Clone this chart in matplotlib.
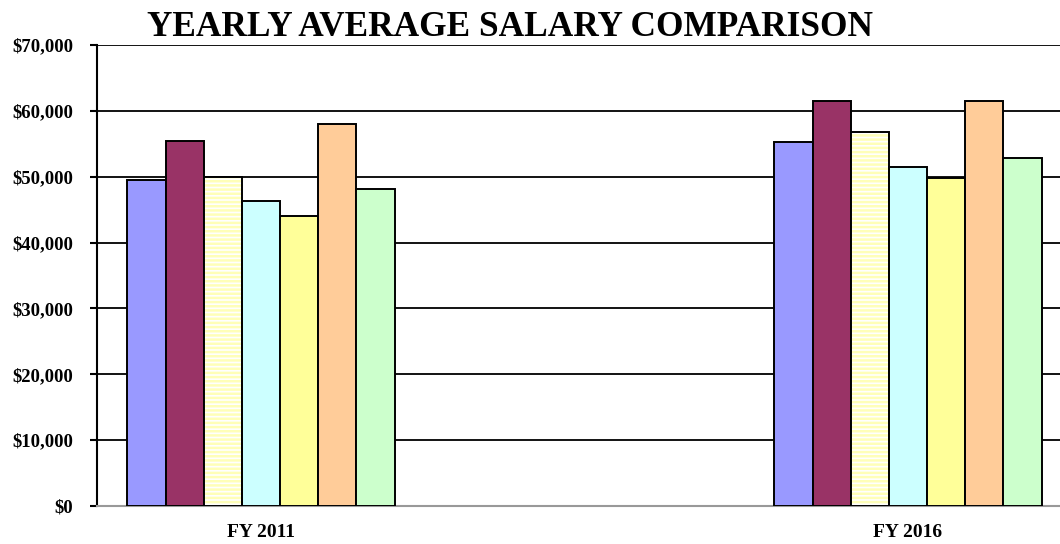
import matplotlib
matplotlib.use('Agg')
import matplotlib.pyplot as plt
import numpy as np

plt.rcParams['font.family'] = ['Liberation Serif', 'DejaVu Serif']
plt.rcParams['font.weight'] = 'bold'
plt.rcParams['hatch.linewidth'] = 1.8

years = ['FY 2011', 'FY 2016']
colors = ['#9999FF', '#993366', '#FFFFCC', '#CCFFFF', '#FFFF99', '#FFCC99', '#CCFFCC']
salaries = [
    [49500, 55200],
    [55450, 61450],
    [50000, 56850],
    [46350, 51400],
    [44000, 49750],
    [58000, 61450],
    [48100, 52900],
]
yticks = [0, 10000, 20000, 30000, 40000, 50000, 60000, 70000]

def main():
    fig = plt.figure(figsize=(10.6, 5.44), dpi=100)
    ax = fig.add_axes([97 / 1060, 38 / 544, 963 / 1060, 461 / 544])

    x = np.arange(len(years))
    w = 0.059
    n = len(salaries)
    for i, vals in enumerate(salaries):
        pos = x + (i - (n - 1) / 2) * w
        if i == 2:
            # striped series: hatch first, black outline on top
            ax.bar(pos, vals, w, color='white', edgecolor='#FFFFB8', hatch='----',
                   linewidth=0, zorder=3)
            ax.bar(pos, vals, w, fill=False, edgecolor='black', linewidth=1.4, zorder=4)
        else:
            ax.bar(pos, vals, w, color=colors[i], edgecolor='black', linewidth=1.4, zorder=3)

    ax.set_ylim(0, 70000)
    ax.set_xlim(-0.2535, 1.235)
    ax.set_yticks(yticks)
    ax.set_yticklabels(['${:,}'.format(v) for v in yticks], fontsize=13.5, fontweight='bold')
    ax.set_xticks(x)
    ax.set_xticklabels(years, fontsize=14, fontweight='bold')
    ax.tick_params(axis='x', length=0, pad=13)
    ax.tick_params(axis='y', length=5, width=1.5, direction='out', pad=12)
    ax.grid(axis='y', color='black', linewidth=1.3, zorder=0)
    ax.set_axisbelow(True)

    for s in ['top', 'right']:
        ax.spines[s].set_visible(False)
    ax.spines['left'].set_linewidth(1.5)
    ax.spines['bottom'].set_color('#999999')
    ax.spines['bottom'].set_linewidth(1.5)

    fig.text(510 / 1060, 1 - 27 / 544, 'YEARLY AVERAGE SALARY COMPARISON',
             ha='center', va='center', fontsize=25.4, fontweight='bold')

    fig.savefig('out.png', dpi=100)

if __name__ == '__main__':
    main()
